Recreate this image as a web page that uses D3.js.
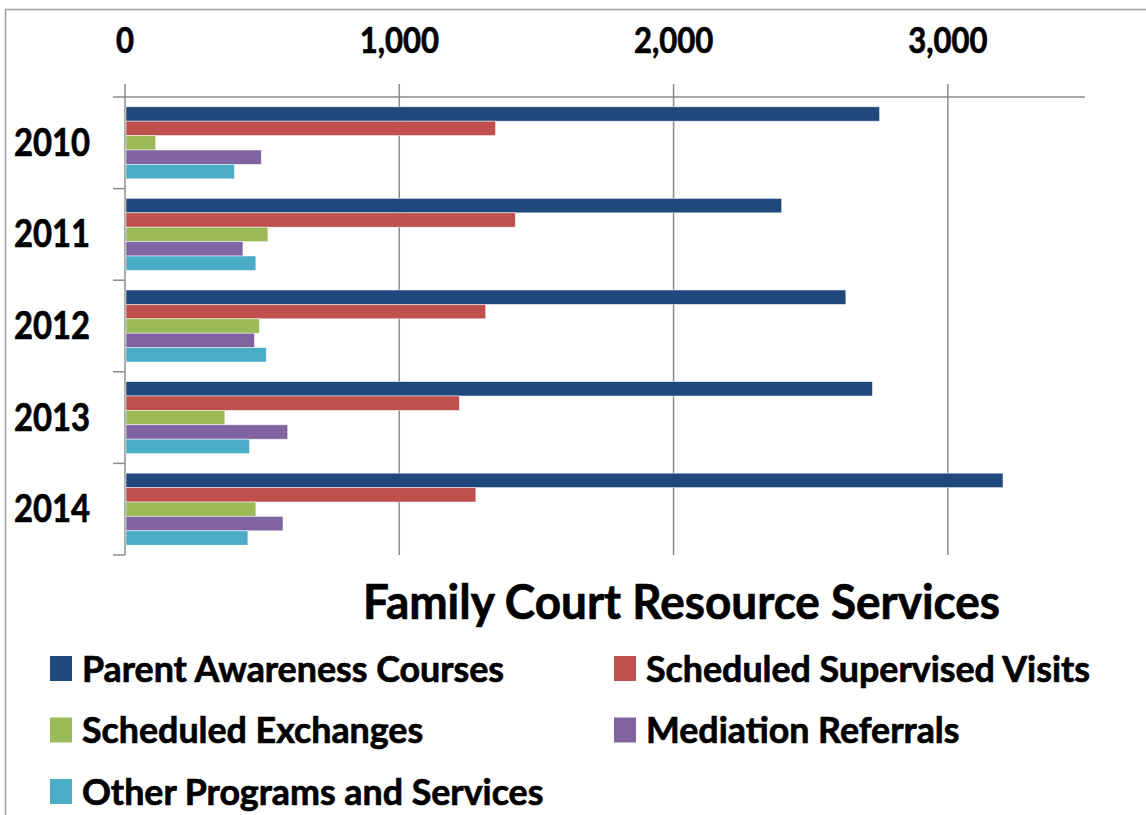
<!DOCTYPE html>
<html>
<head>
<meta charset="utf-8">
<script src="https://cdn.jsdelivr.net/npm/d3@7"></script>
<style>
    html, body { margin: 0; padding: 0; background: #fff; overflow: hidden; }
    svg { display: block; }
    text { font-family: Lato, "Open Sans", "Noto Sans", sans-serif; font-weight: bold; fill: #000; stroke: #000; stroke-width: 0.7px; }
</style>
</head>
<body>
<svg id="chart" width="1146" height="815"></svg>
<script>
// data
const years = ["2010", "2011", "2012", "2013", "2014"];
const seriesNames = [
    "Parent Awareness Courses",
    "Scheduled Supervised Visits",
    "Scheduled Exchanges",
    "Mediation Referrals",
    "Other Programs and Services"
];
const parentAwareness = [2751, 2394, 2628, 2725, 3201];
const supervisedVisits = [1351, 1423, 1315, 1219, 1279];
const scheduledExchanges = [112, 521, 490, 364, 477];
const mediationReferrals = [497, 430, 472, 593, 576];
const otherPrograms = [399, 477, 515, 454, 448];
const xTicks = [0, 1000, 2000, 3000];
const seriesColors = ["#1f497d", "#c0504d", "#9bbb59", "#8064a2", "#4bacc6"];

const seriesValues = [parentAwareness, supervisedVisits, scheduledExchanges, mediationReferrals, otherPrograms];

const svg = d3.select("#chart");
const gridColor = "#8c8c8c";

// chart frame (only top and left edges are inside the picture)
svg.append("rect")
    .attr("x", 5.5).attr("y", 9.5)
    .attr("width", 1200).attr("height", 900)
    .attr("fill", "none")
    .attr("stroke", "#a0a0a0")
    .attr("stroke-width", 1.5);

const plot = { left: 125, right: 1085, top: 97, bottom: 555 };

const x = d3.scaleLinear().domain([0, 3500]).range([plot.left, plot.right]);
const y = d3.scaleBand().domain(years).range([plot.top, plot.bottom]);
const ySeries = d3.scaleBand()
    .domain(d3.range(seriesNames.length))
    .range([0, y.bandwidth()])
    .paddingInner(0)
    .paddingOuter(0.68);

// squeeze text horizontally to match the narrow original face
function condense(sel, k) {
    sel.each(function () {
        const w = this.getComputedTextLength();
        d3.select(this).attr("textLength", w * k).attr("lengthAdjust", "spacingAndGlyphs");
    });
}
function factorFor(str, size, target) {
    const t = svg.append("text").style("font-size", size + "px").text(str);
    const w = t.node().getComputedTextLength();
    t.remove();
    return target / w;
}

const axisK = factorFor("2010", 38, 76);

// gridlines with tick stubs above the axis line
svg.append("g")
    .selectAll("line")
    .data(xTicks)
    .join("line")
    .attr("x1", d => x(d)).attr("x2", d => x(d))
    .attr("y1", plot.top - 13).attr("y2", plot.bottom)
    .attr("stroke", gridColor)
    .attr("stroke-width", 1.5);

// top axis line
svg.append("line")
    .attr("x1", plot.left).attr("x2", plot.right)
    .attr("y1", plot.top).attr("y2", plot.top)
    .attr("stroke", gridColor)
    .attr("stroke-width", 1.5);

// category ticks on the left
const yEdges = years.map(d => y(d)).concat([plot.bottom]);
svg.append("g")
    .selectAll("line")
    .data(yEdges)
    .join("line")
    .attr("x1", plot.left - 12).attr("x2", plot.left)
    .attr("y1", d => d).attr("y2", d => d)
    .attr("stroke", gridColor)
    .attr("stroke-width", 1.5);

// bars
const groups = svg.append("g")
    .selectAll("g")
    .data(years)
    .join("g")
    .attr("transform", d => `translate(0,${y(d)})`);

groups.selectAll("rect")
    .data((yr, i) => seriesValues.map((vals, s) => ({ s: s, value: vals[i] })))
    .join("rect")
    .attr("x", x(0) + 1)
    .attr("y", d => ySeries(d.s))
    .attr("width", d => x(d.value) - x(0) - 1)
    .attr("height", ySeries.bandwidth())
    .attr("fill", d => seriesColors[d.s])
    .attr("stroke", "#ffffff")
    .attr("stroke-opacity", 0.6)
    .attr("stroke-width", 0.8);

// x tick labels
svg.append("g")
    .selectAll("text")
    .data(xTicks)
    .join("text")
    .attr("x", d => x(d))
    .attr("y", 53)
    .attr("text-anchor", "middle")
    .style("font-size", "36px")
    .text(d => d3.format(",")(d))
    .call(condense, axisK);

// year labels
svg.append("g")
    .selectAll("text")
    .data(years)
    .join("text")
    .attr("x", 90)
    .attr("y", d => y(d) + y.bandwidth() / 2 + 13)
    .attr("text-anchor", "end")
    .style("font-size", "38px")
    .text(d => d)
    .call(condense, axisK);

// title
const titleK = factorFor("Family Court Resource Services", 48, 637);
svg.append("text")
    .attr("x", 363)
    .attr("y", 619)
    .style("font-size", "48px")
    .text("Family Court Resource Services")
    .call(condense, titleK);

// legend
const legendK = factorFor(seriesNames[0], 36, 422);
const legend = svg.append("g")
    .selectAll("g")
    .data(seriesNames)
    .join("g")
    .attr("transform", (d, i) => `translate(${i % 2 === 0 ? 50 : 614},${656 + Math.floor(i / 2) * 61.5})`);

legend.append("rect")
    .attr("width", 22)
    .attr("height", 25)
    .attr("fill", (d, i) => seriesColors[i]);

legend.append("text")
    .attr("x", 32)
    .attr("y", 25.5)
    .style("font-size", "36px")
    .text(d => d)
    .call(condense, legendK);
</script>
</body>
</html>
